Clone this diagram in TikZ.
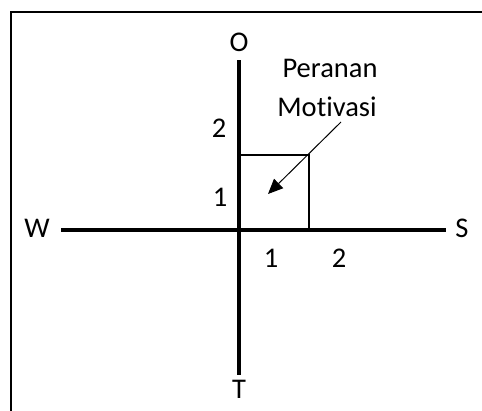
\documentclass[tikz,border=0pt]{standalone}
\usepackage{fontspec}
\setmainfont{Carlito}[Ligatures=NoCommon]
\usetikzlibrary{arrows.meta}
\tikzset{
  axis/.style={
    line width = 4pt
  },
  frame/.style={
    line width = 2pt
  },
  box/.style={
    line width = 2pt
  },
  pointer/.style={
    line width = 1pt,
    -{Triangle[length=15pt,width=13pt]}
  },
  lbl/.style={
    anchor = base,
    font = \fontsize{28.5}{34}\selectfont,
    inner sep = 0pt
  }
}

\begin{document}
\begin{tikzpicture}[x=1pt,y=-1pt]
    \useasboundingbox (0,0) rectangle (482,410);
    \draw[frame] (11,411) -- (11,12) -- (483,12);
    % axes
    \coordinate (north) at (239,60);
    \coordinate (south) at (239,375);
    \coordinate (west) at (61,230);
    \coordinate (east) at (446,230);
    \draw[axis] (west) -- (east);
    \draw[axis] (north) -- (south);
    \node[lbl] (o) at (239,51) {O};
    \node[lbl] (t) at (239,398) {T};
    \node[lbl] (w) at (37,237) {W};
    \node[lbl] (s) at (462,237) {S};
    % scale
    \node[lbl] (ytwo) at (219,137) {2};
    \node[lbl] (yone) at (220,206) {1};
    \node[lbl] (xone) at (271,267) {1};
    \node[lbl] (xtwo) at (339,267) {2};
    % box
    \coordinate (boxtl) at (239,155);
    \coordinate (boxtr) at (309,155);
    \coordinate (boxbr) at (309,230);
    \draw[box] (boxtl) -- (boxtr) -- (boxbr);
    \node[lbl] (peranan) at (330,77) {Peranan};
    \node[lbl] (motivasi) at (327,116) {Motivasi};
    \coordinate (from) at (341,122);
    \coordinate (to) at (268,194);
    \draw[pointer] (from) -- (to);
\end{tikzpicture}
\end{document}
